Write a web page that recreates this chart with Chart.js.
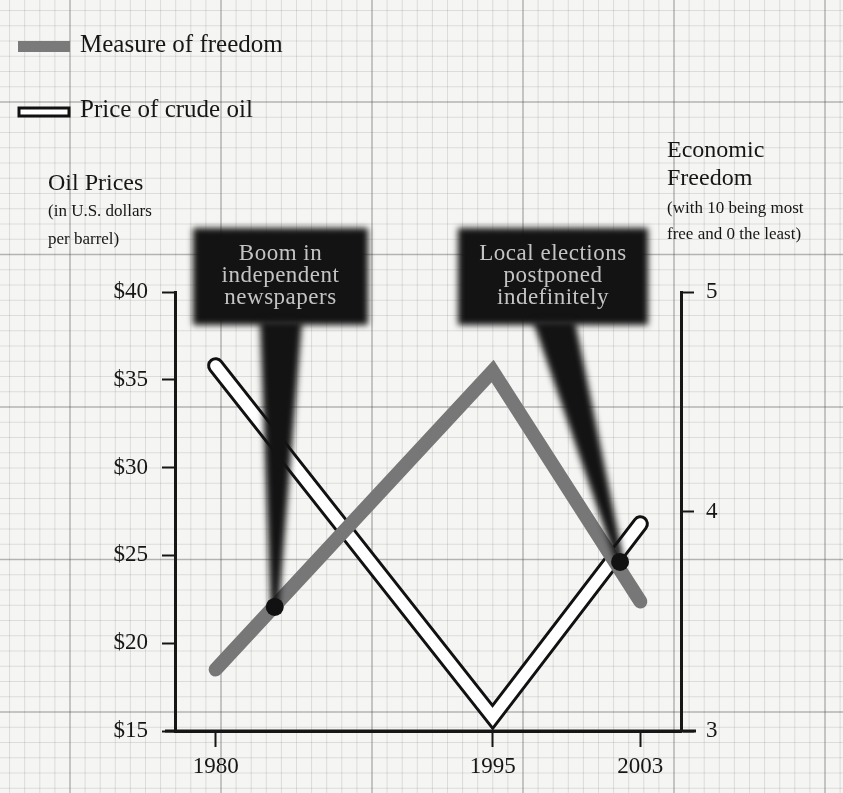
<!DOCTYPE html>
<html>
<head>
<meta charset="utf-8">
<title>Oil prices and economic freedom</title>
<script src="https://cdn.jsdelivr.net/npm/chart.js@4"></script>
<style>
  html, body { margin: 0; padding: 0; background: #f5f5f3; }
  #wrap { width: 843px; height: 793px; }
</style>
</head>
<body>
<div id="wrap"><canvas id="chart" width="843" height="793"></canvas></div>
<script>
// data
const years = [1980, 1995, 2003];
const oilPrices = [35.8, 15.8, 26.8];
const freedomScores = [3.28, 4.64, 3.59];
const eventYears = [1983.2, 2001.9];
const eventScores = [3.565, 3.77];
const eventLabels = [["Boom in", "independent", "newspapers"], ["Local elections", "postponed", "indefinitely"]];
const priceTicks = [15, 20, 25, 30, 35, 40];
const freedomTicks = [3, 4, 5];

const SERIF = '"Liberation Serif", "DejaVu Serif", serif';
const INK = "#161616";

function points(xs, ys) {
    return xs.map((x, i) => ({ x: x, y: ys[i] }));
}

// graph paper behind everything
const paperPlugin = {
    id: "paper",
    beforeDraw(chart) {
        let ctx = chart.ctx;
        ctx.save();
        ctx.fillStyle = "#f5f5f3";
        ctx.fillRect(0, 0, chart.width, chart.height);
        for (let k = -5; k < 52; k++) {
            let x = 70 + k * 15.1;
            ctx.strokeStyle = k % 10 === 0 ? "rgba(80,80,80,0.4)" : "rgba(120,120,120,0.2)";
            ctx.lineWidth = k % 10 === 0 ? 1.5 : 1;
            ctx.beginPath(); ctx.moveTo(x, 0); ctx.lineTo(x, chart.height); ctx.stroke();
        }
        for (let k = -27; k < 27; k++) {
            let y = 407 + k * 15.25;
            ctx.strokeStyle = k % 10 === 0 ? "rgba(80,80,80,0.4)" : "rgba(120,120,120,0.2)";
            ctx.lineWidth = k % 10 === 0 ? 1.5 : 1;
            ctx.beginPath(); ctx.moveTo(0, y); ctx.lineTo(chart.width, y); ctx.stroke();
        }
        ctx.restore();
    }
};

// black signs pointing at the event dots
const callouts = [
    { left: 193, top: 228, width: 175, height: 97, baseL: 260, baseR: 302 },
    { left: 458, top: 228, width: 190, height: 97, baseL: 533, baseR: 575 }
];

const calloutPlugin = {
    id: "callouts",
    afterDatasetDraw(chart, args) {
        if (args.index !== 0) return; // right after the freedom line, before the dots
        let ctx = chart.ctx;
        let xs = chart.scales.x, ys = chart.scales.y1;
        callouts.forEach((c, i) => {
            let tx = xs.getPixelForValue(eventYears[i]);
            let ty = ys.getPixelForValue(eventScores[i]);
            ctx.save();
            ctx.filter = "blur(3px)";
            ctx.fillStyle = "#131313";
            ctx.fillRect(c.left, c.top, c.width, c.height);
            ctx.beginPath();
            ctx.moveTo(c.baseL, c.top + c.height - 4);
            ctx.lineTo(c.baseR, c.top + c.height - 4);
            ctx.lineTo(tx + 4, ty);
            ctx.lineTo(tx - 4, ty);
            ctx.closePath();
            ctx.fill();
            ctx.restore();

            ctx.save();
            ctx.fillStyle = "#c4c4c4";
            ctx.font = "23px " + SERIF;
            ctx.letterSpacing = "0.5px";
            ctx.textAlign = "center";
            let cx = c.left + c.width / 2;
            eventLabels[i].forEach((line, j) => {
                ctx.fillText(line, cx, 260 + j * 22);
            });
            ctx.restore();
        });
    }
};

// legend, axis titles, x axis stubs
const textPlugin = {
    id: "texts",
    afterDraw(chart) {
        let ctx = chart.ctx;
        let area = chart.chartArea;
        ctx.save();
        // x axis runs a little past both vertical axes
        ctx.strokeStyle = INK;
        ctx.lineWidth = 3;
        ctx.beginPath();
        ctx.moveTo(area.left - 10, area.bottom);
        ctx.lineTo(area.right + 15, area.bottom);
        ctx.stroke();

        // legend
        ctx.fillStyle = "#7a7a7a";
        ctx.fillRect(18, 41, 52, 11);
        ctx.fillStyle = "#fff";
        ctx.fillRect(19, 108, 50, 8);
        ctx.strokeStyle = "#111";
        ctx.lineWidth = 3;
        ctx.strokeRect(19, 108, 50, 8);

        ctx.fillStyle = INK;
        ctx.textAlign = "left";
        ctx.font = "25px " + SERIF;
        ctx.fillText(chart.data.datasets[0].label, 80, 52);
        ctx.fillText(chart.data.datasets[1].label, 80, 117);

        ctx.font = "24px " + SERIF;
        ctx.fillText("Oil Prices", 48, 190);
        ctx.fillText("Economic", 667, 157);
        ctx.fillText("Freedom", 667, 185);

        ctx.font = "17px " + SERIF;
        ctx.fillText("(in U.S. dollars", 48, 216);
        ctx.fillText("per barrel)", 48, 244);
        ctx.fillText("(with 10 being most", 667, 213);
        ctx.fillText("free and 0 the least)", 667, 239);
        ctx.restore();
    }
};

const axisLook = {
    grid: { drawOnChartArea: false, drawTicks: true, tickLength: 13, tickColor: INK, tickWidth: 2, color: INK },
    border: { display: true, color: INK, width: 3 }
};

new Chart(document.getElementById("chart"), {
    type: "line",
    data: {
        datasets: [
            {
                label: "Measure of freedom",
                data: points(years, freedomScores),
                yAxisID: "y1",
                borderColor: "#777777",
                borderWidth: 14,
                borderCapStyle: "round",
                borderJoinStyle: "miter",
                pointRadius: 0,
                order: 1
            },
            {
                label: "Price of crude oil",
                data: points(years, oilPrices),
                yAxisID: "y",
                borderColor: "#ffffff",
                borderWidth: 11,
                borderCapStyle: "round",
                borderJoinStyle: "miter",
                pointRadius: 0,
                order: 2
            },
            {
                label: "oil outline",
                data: points(years, oilPrices),
                yAxisID: "y",
                borderColor: "#111111",
                borderWidth: 17,
                borderCapStyle: "round",
                borderJoinStyle: "miter",
                pointRadius: 0,
                order: 3
            },
            {
                type: "scatter",
                label: "events",
                data: points(eventYears, eventScores),
                yAxisID: "y1",
                backgroundColor: "#111111",
                borderWidth: 0,
                pointRadius: 9,
                order: 0
            }
        ]
    },
    options: {
        responsive: false,
        animation: false,
        layout: { padding: { top: 292, left: 0, right: 0, bottom: 0 } },
        plugins: { legend: { display: false }, tooltip: { enabled: false } },
        scales: {
            x: {
                type: "linear",
                min: 1977.8,
                max: 2005.2,
                afterBuildTicks: axis => { axis.ticks = years.map(v => ({ value: v })); },
                afterFit: axis => { axis.height = 62; },
                ticks: { color: INK, font: { family: SERIF, size: 23 }, padding: 6, maxRotation: 0, autoSkip: false, callback: v => String(v) },
                grid: { ...axisLook.grid, tickLength: 16 },
                border: axisLook.border
            },
            y: {
                type: "linear",
                position: "left",
                min: 15,
                max: 40,
                afterBuildTicks: axis => { axis.ticks = priceTicks.map(v => ({ value: v })); },
                afterFit: axis => { axis.width = 175; },
                ticks: { color: INK, font: { family: SERIF, size: 23 }, padding: 14, callback: v => "$" + v },
                grid: axisLook.grid,
                border: axisLook.border
            },
            y1: {
                type: "linear",
                position: "right",
                min: 3,
                max: 5,
                afterBuildTicks: axis => { axis.ticks = freedomTicks.map(v => ({ value: v })); },
                afterFit: axis => { axis.width = 162; },
                ticks: { color: INK, font: { family: SERIF, size: 23 }, padding: 12 },
                grid: axisLook.grid,
                border: axisLook.border
            }
        }
    },
    plugins: [paperPlugin, calloutPlugin, textPlugin]
});
</script>
</body>
</html>
